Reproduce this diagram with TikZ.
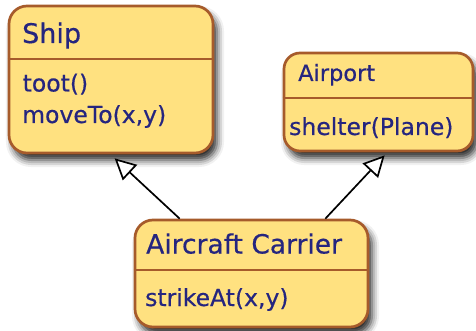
\documentclass[tikz,border=0pt]{standalone}
\usepackage{fontspec}
\setmainfont{DejaVu Sans}[BoldFont={DejaVu Sans},BoldFeatures={FakeBold=0.5}]
\usetikzlibrary{arrows.meta,shadows.blur}
\definecolor{boxfill}{HTML}{FFE180}
\definecolor{boxline}{HTML}{A65B2B}
\definecolor{txt}{HTML}{25257F}
\begin{document}
\begin{tikzpicture}[x=1pt,y=-1pt,
 cls/.style={draw=boxline, line width=2.7pt, fill=boxfill, rounded corners=18pt, inner sep=0pt,
   blur shadow={shadow xshift=4pt, shadow yshift=-7pt, shadow blur radius=7pt, shadow opacity=85}},
 lbl/.style={anchor=base west, inner sep=0pt, text=txt, font=\fontsize{23.5}{28}\selectfont\bfseries},
 ttl/.style={lbl, font=\fontsize{27}{32}\selectfont\bfseries},
 div/.style={draw=boxline, line width=1.6pt},
 inh/.style={draw=black, line width=1.7pt, -{Triangle[open, fill=white, length=21pt, width=21pt, line width=1.7pt]}}]
\useasboundingbox (0,0) rectangle (476,331);
% boxes
\node[cls, minimum width=204pt, minimum height=147pt] (ship) at (111,79.5) {};
\node[cls, rounded corners=16pt, minimum width=189pt, minimum height=98pt] (airport) at (378.5,102) {};
\node[cls, minimum width=233pt, minimum height=107pt] (carrier) at (251.5,273.5) {};
% dividers
\draw[div] (ship.west |- 0,59) -- (ship.east |- 0,59);
\draw[div] (airport.west |- 0,98) -- (airport.east |- 0,98);
\draw[div] (carrier.west |- 0,270) -- (carrier.east |- 0,270);
% texts
\node[ttl] (shipT) at (22,43) {Ship};
\node[lbl] (shipM1) at (22.5,91.5) {toot()};
\node[lbl] (shipM2) at (22,123) {moveTo(x,y)};
\node[lbl, font=\fontsize{22.5}{27}\selectfont\bfseries] (airT) at (298,81) {Airport};
\node[lbl] (airM1) at (289,135) {shelter(Plane)};
\node[ttl, font=\fontsize{26.5}{32}\selectfont\bfseries] (carT) at (146,253.5) {Aircraft Carrier};
\node[lbl] (carM1) at (145,306) {strikeAt(x,y)};
% inheritance arrows
\draw[inh] ([xshift=46pt]carrier.north west) -- ([xshift=107pt,yshift=-4pt]ship.south west);
\draw[inh] ([xshift=-44pt]carrier.north east) -- ([xshift=102pt,yshift=-3pt]airport.south west);
\end{tikzpicture}
\end{document}
